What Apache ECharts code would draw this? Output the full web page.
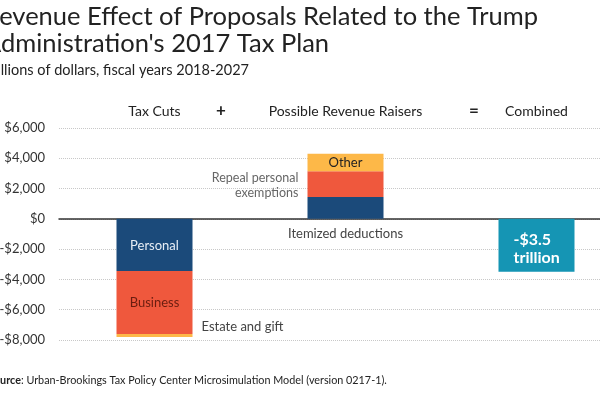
<!DOCTYPE html>
<html><head><meta charset="utf-8">
<script src="https://cdn.jsdelivr.net/npm/echarts@6/dist/echarts.min.js"></script>
<style>html,body{margin:0;padding:0;background:#fff}#c{width:600px;height:400px}</style>
</head><body><div id="c"></div>
<script>
const categories = ['Tax Cuts', 'Possible Revenue Raisers', 'Combined'];
const personal = [-3450, '-', '-'];
const business = [-4150, '-', '-'];
const estateGift = [-200, '-', '-'];
const itemized = ['-', 1450, '-'];
const repealExemptions = ['-', 1700, '-'];
const other = ['-', 1150, '-'];
const combined = ['-', '-', -3500];
const yTicks = { min: -8000, max: 6000, interval: 2000 };

const FONT = 'Lato';
const NAVY = '#1b4a7a', RED = '#ef583d', YEL = '#fdb848', TEAL = '#1595b4';

function fmt(v) {
  const s = Math.abs(v).toLocaleString('en-US');
  return (v < 0 ? '-$' : '$') + s;
}
function bar(name, data, color, label) {
  return { name, type: 'bar', stack: 'all', data, barWidth: 76,
    itemStyle: { color }, label: Object.assign({ show: true, fontFamily: FONT }, label || {}) };
}
const chart = echarts.init(document.getElementById('c'));
chart.setOption({
  animation: false,
  textStyle: { fontFamily: FONT },
  grid: { left: 59, width: 573, top: 128, height: 212, containLabel: false, outerBoundsMode: 'none' },
  xAxis: [{
    type: 'category', data: categories, position: 'bottom',
    axisLine: { onZero: true, lineStyle: { color: '#333', width: 1.5 } },
    axisTick: { show: false }, axisLabel: { show: false }
  }, {
    type: 'category', data: categories, position: 'top',
    axisLine: { show: false }, axisTick: { show: false },
    axisLabel: { interval: 0, color: '#222', fontSize: 14, fontFamily: FONT, margin: 10 }
  }],
  yAxis: {
    type: 'value', min: yTicks.min, max: yTicks.max, interval: yTicks.interval,
    axisLine: { show: false }, axisTick: { show: false },
    axisLabel: { formatter: fmt, color: '#333', fontSize: 13, fontFamily: FONT, margin: 14 },
    splitLine: { lineStyle: { type: 'dotted', color: '#c8c8c8' } }
  },
  series: [
    bar('Personal', personal, NAVY, { position: 'inside', offset: [0, 1], formatter: 'Personal', color: '#e8eef5', fontSize: 13 }),
    bar('Business', business, RED, { position: 'inside', formatter: 'Business', color: '#6b1d10', fontSize: 13 }),
    bar('Estate and gift', estateGift, YEL, { position: 'right', distance: 9, offset: [0, -9], formatter: 'Estate and gift', color: '#444', fontSize: 13 }),
    bar('Itemized deductions', itemized, NAVY, { position: 'bottom', distance: 8, formatter: 'Itemized deductions', color: '#444', fontSize: 13 }),
    bar('Repeal personal exemptions', repealExemptions, RED, { position: 'left', distance: 9, align: 'right', offset: [0, 1], formatter: 'Repeal personal\nexemptions', color: '#666', fontSize: 12.5, lineHeight: 15 }),
    bar('Other', other, YEL, { position: 'inside', formatter: 'Other', color: '#222', fontSize: 13 }),
    bar('Combined', combined, TEAL, { position: [15, 12], formatter: '-$3.5\ntrillion', color: '#fff', fontSize: 16, fontWeight: 'bold', lineHeight: 18, align: 'left', verticalAlign: 'top' })
  ],
  graphic: [
    { type: 'text', left: -16, top: 3, style: { text: "Revenue Effect of Proposals Related to the Trump\nAdministration's 2017 Tax Plan", font: '25.5px Lato', fill: '#222', lineHeight: 27 } },
    { type: 'text', left: -12, top: 63, style: { text: 'Billions of dollars, fiscal years 2018-2027', font: '14.5px Lato', fill: '#222' } },
    { type: 'text', left: 216, top: 102, style: { text: '+', font: 'bold 17px Lato', fill: '#222' } },
    { type: 'text', left: 469, top: 102, style: { text: '=', font: 'bold 17px Lato', fill: '#222' } },
    { type: 'text', left: -12, top: 375, style: { rich: { b: { font: 'bold 10.8px Lato', fill: '#222' }, n: { font: '10.8px Lato', fill: '#222' } }, text: '{b|Source}{n|: Urban-Brookings Tax Policy Center Microsimulation Model (version 0217-1).}' } }
  ]
});
</script></body></html>
